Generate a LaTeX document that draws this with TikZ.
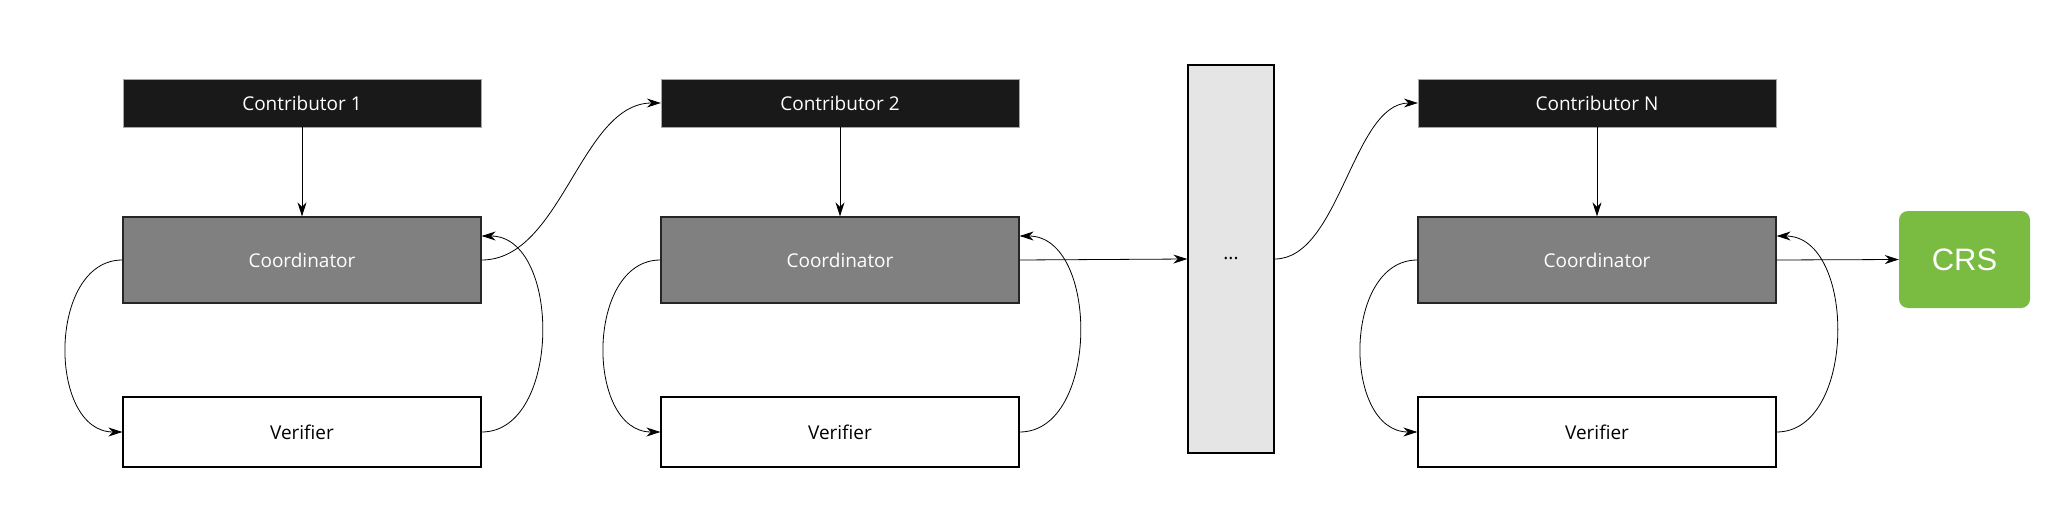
\documentclass[tikz,border=0pt]{standalone}
\usepackage{fontspec}
\setmainfont{Open Sans}
\newfontfamily\crsfont{Liberation Sans}
\usetikzlibrary{arrows.meta}
\begin{document}
\begin{tikzpicture}[x=1pt,y=-1pt,
  arr/.style={-{Stealth[length=14pt,width=9pt]},line width=0.8pt},
  contrib/.style={draw=gray!70,fill=black!90,text=white,minimum width=358pt,minimum height=48pt,inner sep=0pt,font=\fontsize{19}{22}\selectfont},
  coord/.style={draw=black!85,line width=1.3pt,fill=black!50,text=white,minimum width=358pt,minimum height=86pt,inner sep=0pt,font=\fontsize{19}{22}\selectfont},
  verif/.style={draw=black,line width=1.3pt,fill=white,minimum width=358pt,minimum height=70pt,inner sep=0pt,font=\fontsize{19}{22}\selectfont}]
\useasboundingbox[fill=white] (0,0) rectangle (2048,524);
\foreach \i/\x/\t in {1/302/Contributor 1,2/840/Contributor 2,3/1597/Contributor N}{
  \node[contrib] (c\i) at (\x,103) {\t};
  \node[coord] (k\i) at (\x,260) {Coordinator};
  \node[verif] (v\i) at (\x,432) {Verifier};
  \draw[arr] (c\i) -- (k\i);
  \draw[arr] (k\i.west) .. controls +(-75,0) and +(-75,0) .. (v\i.west);
  \draw[arr] (v\i.east) .. controls +(80,0) and +(80,0) .. ([yshift=24pt]k\i.east);
}
\node[draw=black,line width=1.3pt,fill=black!10,minimum width=86pt,minimum height=388pt,inner sep=0pt,font=\fontsize{19}{22}\selectfont] (dots) at (1231,259) {...};
\node[fill=green!55!black!70!yellow,fill={rgb,255:red,122;green,187;blue,66},rounded corners=9pt,minimum width=131pt,minimum height=97pt,text=white,font=\crsfont\fontsize{31}{36}\selectfont] (crs) at (1964.5,259.5) {CRS};
\draw[arr] (k1.east) .. controls +(80,0) and +(-80,0) .. (c2.west);
\draw[arr] (k2.east) -- (dots.west);
\draw[arr] (dots.east) .. controls +(65,0) and +(-65,0) .. (c3.west);
\draw[arr] (k3.east) -- (crs.west);
\end{tikzpicture}
\end{document}
